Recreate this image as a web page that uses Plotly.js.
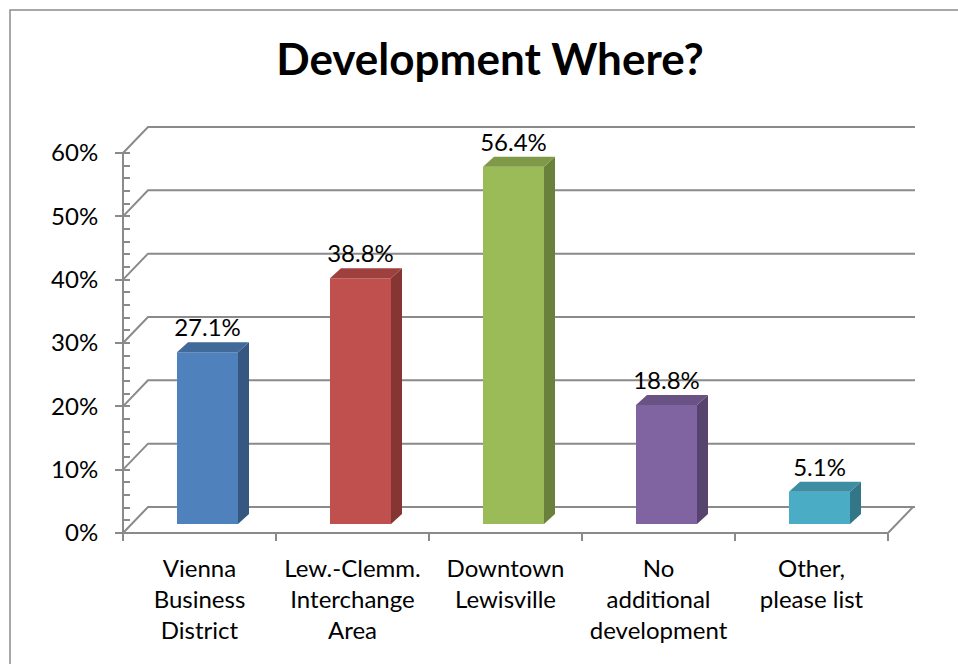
<!DOCTYPE html>
<html>
<head>
<meta charset="utf-8">
<script src="https://cdn.plot.ly/plotly-3.0.1.min.js"></script>
<style>html,body{margin:0;padding:0;background:#fff;}#chart{width:958px;height:664px;}</style>
</head>
<body>
<div id="chart"></div>
<script>
// ---- data ----
const categories = ['Vienna<br>Business<br>District', 'Lew.-Clemm.<br>Interchange<br>Area', 'Downtown<br>Lewisville', 'No<br>additional<br>development', 'Other,<br>please list'];
const values = [0.271, 0.388, 0.564, 0.188, 0.051];
const valueLabels = ['27.1%', '38.8%', '56.4%', '18.8%', '5.1%'];
const yTicks = [0, 0.1, 0.2, 0.3, 0.4, 0.5, 0.6];
const yTickText = ['0%', '10%', '20%', '30%', '40%', '50%', '60%'];
const frontColors = ['#4F81BD', '#C0504D', '#9BBB59', '#8064A2', '#4BACC6'];
const topColors = ['#41699A', '#9E413E', '#7E9A48', '#695284', '#3D8DA3'];
const sideColors = ['#36577F', '#853532', '#6A813B', '#57446E', '#337688'];

// ---- geometry (pixels) ----
const W = 958, H = 664;
const plotL = 113, plotR = 925, plotT = 118, plotB = 543;
const axisX = 123, axisY = 533;
const catPx = 153, unitPx = 380 / 0.6;
const px2x = p => p / catPx;
const px2y = p => p / unitPx;
const nCat = categories.length;
const xr = [-0.5 - px2x(axisX - plotL), -0.5 + px2x(plotR - axisX)];
const yr = [-px2y(plotB - axisY), px2y(axisY - plotT)];
const wallDx = px2x(25), wallDy = px2y(26);
const barDx = px2x(11), barDy = px2y(10);
const barShift = px2x(8), barBase = px2y(9), barW = px2x(61);
const labelGap = px2y(22);
const gridColor = '#8a8a8a';
const xLeft = -0.5, xRight = nCat - 0.5;
const idx = categories.map((c, i) => i);
const yMax = yTicks[yTicks.length - 1];

// ---- shapes: back wall gridlines, floor, axis line, border ----
const shapes = [];
yTicks.forEach(t => {
  shapes.push({type: 'path', xref: 'x', yref: 'y', layer: 'below',
    path: `M ${xLeft} ${t} L ${xLeft + wallDx} ${t + wallDy} L ${xRight + wallDx + px2x(2)} ${t + wallDy}`,
    line: {color: gridColor, width: 2}});
});
shapes.push({type: 'path', xref: 'x', yref: 'y', layer: 'below',
  path: `M ${xLeft} 0 L ${xRight} 0 L ${xRight + wallDx} ${wallDy}`,
  line: {color: gridColor, width: 2}});
shapes.push({type: 'path', xref: 'x', yref: 'y', layer: 'below',
  path: `M ${xLeft} 0 L ${xLeft} ${yMax}`,
  line: {color: gridColor, width: 2}});
const pw = plotR - plotL, ph = plotB - plotT;
shapes.push({type: 'rect', xref: 'paper', yref: 'paper', layer: 'below',
  x0: (10 - plotL) / pw, x1: (W + 20 - plotL) / pw,
  y0: (plotB - (H + 20)) / ph, y1: (plotB - 10) / ph,
  line: {color: '#8c8c8c', width: 1.5}, fillcolor: 'rgba(0,0,0,0)'});

// ---- traces ----
const traces = [];
traces.push({type: 'bar', x: idx, y: values, base: barBase, width: barW,
  offset: barShift - barW / 2, marker: {color: frontColors, line: {width: 0}},
  hoverinfo: 'skip', showlegend: false, xaxis: 'x', yaxis: 'y'});
values.forEach((v, i) => {
  const x0 = i + barShift - barW / 2, x1 = i + barShift + barW / 2;
  const y0 = barBase, y1 = barBase + v;
  traces.push({type: 'scatter', mode: 'lines', fill: 'toself', fillcolor: sideColors[i],
    x: [x1, x1 + barDx, x1 + barDx, x1, x1], y: [y0, y0 + barDy, y1 + barDy, y1, y0],
    line: {width: 0, color: sideColors[i]}, hoverinfo: 'skip', showlegend: false});
  traces.push({type: 'scatter', mode: 'lines', fill: 'toself', fillcolor: topColors[i],
    x: [x0, x1, x1 + barDx, x0 + barDx, x0], y: [y1, y1, y1 + barDy, y1 + barDy, y1],
    line: {width: 0, color: topColors[i]}, hoverinfo: 'skip', showlegend: false});
});
traces.push({type: 'scatter', mode: 'text', xaxis: 'x2', yaxis: 'y',
  x: idx.map(i => i + barShift), y: values.map(v => barBase + v + labelGap),
  text: valueLabels, textposition: 'middle center',
  textfont: {family: 'Lato, sans-serif', size: 24, color: '#000'},
  hoverinfo: 'skip', showlegend: false, cliponaxis: false});

const minorVals = [];
for (let k = 0; k <= 30; k++) minorVals.push(+(k * 0.02).toFixed(2));

const layout = {
  width: W, height: H,
  margin: {l: plotL, r: W - plotR, t: plotT, b: H - plotB, pad: 0},
  paper_bgcolor: '#fff', plot_bgcolor: 'rgba(0,0,0,0)',
  showlegend: false,
  font: {family: 'Lato, sans-serif', size: 24, color: '#000'},
  title: {text: 'Development Where?', font: {family: 'Lato, sans-serif', size: 44, weight: 700, color: '#000'},
    x: 490 / W, xref: 'container', xanchor: 'center', y: 1 - 60 / H, yref: 'container', yanchor: 'middle'},
  xaxis: {type: 'linear', range: xr, anchor: 'free', position: (plotB - axisY) / ph,
    tickmode: 'array', tickvals: idx.map(i => i - 0.5).concat([xRight]),
    ticks: 'outside', ticklen: 7, tickwidth: 2, tickcolor: gridColor,
    showticklabels: false, showgrid: false, zeroline: false, showline: false, fixedrange: true},
  xaxis2: {type: 'linear', range: xr, overlaying: 'x', anchor: 'free', position: (plotB - axisY) / ph,
    tickmode: 'array', tickvals: idx, ticktext: categories, ticks: '', ticklabelstandoff: 19,
    tickfont: {family: 'Lato, sans-serif', size: 24, color: '#000'},
    showgrid: false, zeroline: false, showline: false, fixedrange: true},
  yaxis: {type: 'linear', range: yr, anchor: 'free', position: (axisX - plotL) / pw,
    tickmode: 'array', tickvals: yTicks, ticktext: yTickText,
    ticks: 'outside', ticklen: 8, tickwidth: 2, tickcolor: gridColor, ticklabelstandoff: 12,
    minor: {tickmode: 'array', tickvals: minorVals, ticks: 'inside', ticklen: 6, tickwidth: 2, tickcolor: gridColor},
    tickfont: {family: 'Lato, sans-serif', size: 24, color: '#000'},
    showgrid: false, zeroline: false, showline: false, fixedrange: true},
  shapes: shapes
};

Plotly.newPlot('chart', traces, layout, {staticPlot: true, displayModeBar: false});
</script>
</body>
</html>
